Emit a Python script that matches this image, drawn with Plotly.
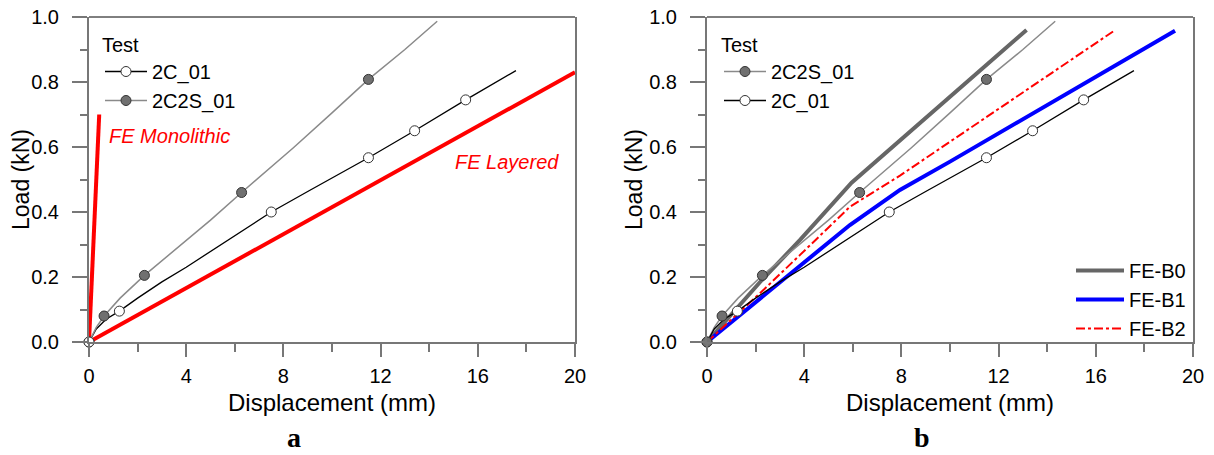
import plotly.graph_objects as go

# ---- test curves: displacement (mm) vs load (kN) ----
c2_x = [0, 0.3, 0.7, 1.25, 2, 3, 4, 5, 6, 7.5, 9, 10, 11.5, 13.4, 15.5, 17.57]
c2_y = [0, 0.04, 0.07, 0.095, 0.135, 0.185, 0.23, 0.278, 0.328, 0.40, 0.463, 0.505, 0.567, 0.65, 0.745, 0.835]
c2_mx = [0, 1.25, 7.5, 11.5, 13.4, 15.5]
c2_my = [0, 0.095, 0.40, 0.567, 0.65, 0.745]

s2_x = [0, 0.3, 0.62, 1.28, 2.28, 3.5, 5, 6.28, 8.4, 10, 11.5, 13, 14.33]
s2_y = [0, 0.045, 0.08, 0.135, 0.205, 0.28, 0.375, 0.46, 0.597, 0.705, 0.808, 0.90, 0.987]
s2_mx = [0, 0.62, 2.28, 6.28, 11.5]
s2_my = [0, 0.08, 0.205, 0.46, 0.808]

# ---- FE models, panel a ----
mono_x = [0, 0.42]
mono_y = [0, 0.70]
lay_x = [0, 20]
lay_y = [0, 0.83]

# ---- FE models, panel b ----
b0_x = [0, 2.25, 3.83, 5.95, 13.15]
b0_y = [0, 0.19, 0.314, 0.49, 0.96]
b1_x = [0, 2.18, 3.83, 5.88, 7.94, 10, 19.26]
b1_y = [0, 0.134, 0.232, 0.36, 0.468, 0.555, 0.958]
b2_x = [0, 2.18, 3.83, 5.88, 7.94, 12.06, 16.8]
b2_y = [0, 0.15, 0.268, 0.416, 0.512, 0.72, 0.96]

W, H = 1214, 455
OFF = 8  # page body margin around the plot div
TOP, BOT = 17 - OFF, 342 - OFF  # plot area top/bottom in figure pixels
ML, MR, MT, MB = 0, 0, TOP, H - BOT
PH = BOT - TOP
dom_a = [(89 - OFF) / W, (575 - OFF) / W]
dom_b = [(707 - OFF) / W, (1193 - OFF) / W]


def py(y):
    # page pixel row -> paper y
    return (342 - y) / PH


def px(x):
    return (x - OFF) / W


FONT = 'Liberation Sans, Arial, sans-serif'
SERIF = 'Liberation Serif, Times New Roman, serif'
AXC = '#777777'
GRAY_FILL = '#707070'

fig = go.Figure()


def test_traces(xa, ya, leg, order):
    specs = {
        '2C_01': dict(x=c2_x, y=c2_y, mx=c2_mx, my=c2_my, lc='black', lw=1.3, mf='white'),
        '2C2S_01': dict(x=s2_x, y=s2_y, mx=s2_mx, my=s2_my, lc='#8a8a8a', lw=1.5, mf=GRAY_FILL),
    }
    for name in order:
        s = specs[name]
        fig.add_trace(go.Scatter(x=s['x'], y=s['y'], mode='lines', xaxis=xa, yaxis=ya,
                                 line=dict(color=s['lc'], width=s['lw']),
                                 showlegend=False, hoverinfo='skip', cliponaxis=False))
    for name in reversed(order):
        s = specs[name]
        fig.add_trace(go.Scatter(x=s['mx'], y=s['my'], mode='markers', xaxis=xa, yaxis=ya,
                                 marker=dict(size=10, color=s['mf'], line=dict(color='#333', width=1)),
                                 showlegend=False, cliponaxis=False, name=name))
    for name in order:
        s = specs[name]
        fig.add_trace(go.Scatter(x=[None], y=[None], mode='lines+markers', name=name,
                                 xaxis=xa, yaxis=ya, legend=leg, legendgroup=leg + name,
                                 line=dict(color=s['lc'], width=s['lw']),
                                 marker=dict(size=10, color=s['mf'], line=dict(color='#333', width=1))))


# panel a
fig.add_trace(go.Scatter(x=mono_x, y=mono_y, mode='lines', xaxis='x', yaxis='y',
                         line=dict(color='red', width=4), showlegend=False, cliponaxis=False))
fig.add_trace(go.Scatter(x=lay_x, y=lay_y, mode='lines', xaxis='x', yaxis='y',
                         line=dict(color='red', width=4), showlegend=False, cliponaxis=False))
test_traces('x', 'y', 'legend', ['2C_01', '2C2S_01'])

# panel b
fe_specs = [
    ('FE-B0', b0_x, b0_y, dict(color='#666666', width=4)),
    ('FE-B1', b1_x, b1_y, dict(color='blue', width=4)),
    ('FE-B2', b2_x, b2_y, dict(color='red', width=2, dash='dashdot')),
]
for name, xs, ys, ln in fe_specs:
    fig.add_trace(go.Scatter(x=xs, y=ys, mode='lines', name=name, xaxis='x2', yaxis='y2',
                             line=ln, legend='legend3', legendgroup=name, cliponaxis=False))
test_traces('x2', 'y2', 'legend2', ['2C2S_01', '2C_01'])


def xax(dom, anchor):
    return dict(domain=dom, anchor=anchor, range=[0, 20], dtick=4, tick0=0, automargin=False,
                showgrid=False, zeroline=False, showline=True, linecolor=AXC, linewidth=2,
                ticks='outside', ticklen=13, tickcolor=AXC, tickwidth=1.5, ticklabelstandoff=2,
                ticklabeloverflow='allow',
                minor=dict(dtick=2, ticks='outside', ticklen=8, tickcolor=AXC, tickwidth=1.5),
                tickfont=dict(size=20, color='black', family=FONT),
                title=dict(text='Displacement (mm)', font=dict(size=24, color='black', family=FONT),
                           standoff=8))


def yax(anchor):
    return dict(domain=[0, 1], anchor=anchor, range=[0, 1], dtick=0.2, tick0=0, tickformat='.1f',
                automargin=False, ticklabeloverflow='allow',
                showgrid=False, zeroline=False, showline=True, linecolor=AXC, linewidth=2, mirror=True,
                ticks='outside', ticklen=15, tickcolor=AXC, tickwidth=1.5, ticklabelstandoff=9,
                minor=dict(dtick=0.1, ticks='outside', ticklen=7, tickcolor=AXC, tickwidth=1.5),
                tickfont=dict(size=20, color='black', family=FONT),
                title=dict(text='Load (kN)', font=dict(size=23, color='black', family=FONT),
                           standoff=0))


def leg(x, y, xanchor='left', yanchor='top', title=None, iw=40):
    d = dict(x=x, y=y, xanchor=xanchor, yanchor=yanchor, bgcolor='rgba(0,0,0,0)',
             font=dict(size=20, color='black', family=FONT), tracegroupgap=0, itemwidth=iw)
    if title:
        d['title'] = dict(text=title, font=dict(size=20, color='black', family=FONT))
    return d


lbl = dict(size=28, color='black', family=SERIF)
fig.update_layout(
    width=W, height=H, margin=dict(l=ML, r=MR, t=MT, b=MB),
    paper_bgcolor='white', plot_bgcolor='white',
    font=dict(family=FONT, color='black'),
    xaxis=xax(dom_a, 'y'), yaxis=yax('x'),
    xaxis2=xax(dom_b, 'y2'), yaxis2=yax('x2'),
    legend=leg(px(100), py(26), title='Test', iw=42),
    legend2=leg(px(719), py(26), title='Test', iw=42),
    legend3=leg(px(1191), py(251), xanchor='right', yanchor='top', iw=48),
    shapes=[
        dict(type='line', xref='x domain', yref='y domain', x0=0, x1=1, y0=1, y1=1,
             line=dict(color='black', width=1)),
        dict(type='line', xref='x2 domain', yref='y2 domain', x0=0, x1=1, y0=1, y1=1,
             line=dict(color='black', width=1)),
    ],
    annotations=[
        dict(x=0.74, y=0.634, xref='x', yref='y', text='FE Monolithic', showarrow=False,
             xanchor='left', font=dict(size=20, color='red', family=FONT, style='italic')),
        dict(x=14.98, y=0.554, xref='x', yref='y', text='FE Layered', showarrow=False,
             xanchor='left', font=dict(size=20, color='red', family=FONT, style='italic')),
        dict(x=px(294), y=py(437), xref='paper', yref='paper', text='<b>a</b>',
             xanchor='center', yanchor='middle', showarrow=False, font=lbl),
        dict(x=px(922), y=py(437), xref='paper', yref='paper', text='<b>b</b>',
             xanchor='center', yanchor='middle', showarrow=False, font=lbl),
    ],
)

fig.write_html('out.html')
